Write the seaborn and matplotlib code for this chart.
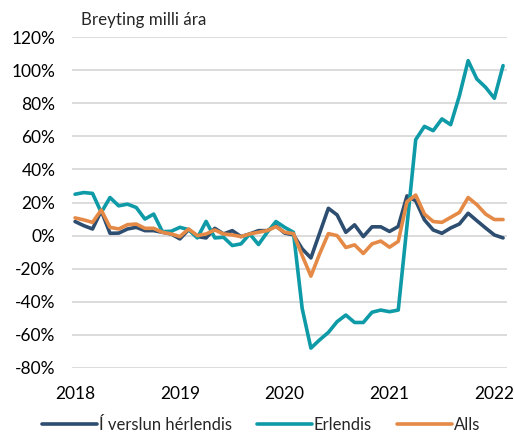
import numpy as np
import pandas as pd
import seaborn as sns
import matplotlib.pyplot as plt
from matplotlib.lines import Line2D
from matplotlib.ticker import FuncFormatter

months = pd.date_range('2018-01-01', periods=50, freq='MS')

verslun = [8.5, 6, 4, 15, 1.4, 1.5, 4, 5, 3, 3, 2, 1, -2, 3.6, -0.6, -1.4, 4.4, 1, 3, -0.6,
           1, 3, 3, 6, 1.5, 0.5, -8, -13.5, 1.5, 16.5, 12.5, 2, 6.5, -0.6, 5.3, 5.3, 2.5, 5.5, 24, 21,
           9.5, 3.4, 1.4, 4.6, 7, 13.5, 9, 4.6, 0.4, -1.4]
erlendis = [25, 26, 25.5, 14, 23, 18, 19, 17, 10, 13, 2.4, 2.6, 5, 3.6, -1.4, 8.6, -1.4, -1, -6, -5,
            1, -5.4, 2, 8.5, 5, 2, -44, -68, -63, -58.5, -52, -48, -52.5, -52.5, -46.3, -45, -46, -45, 6, 58,
            66, 63.4, 70.5, 67, 84.5, 105.7, 94.6, 89.6, 83, 102.7]
alls = [10.7, 9.5, 8, 15.5, 5, 4, 6.6, 7, 4.4, 4.4, 2, 1, -0.6, 4, 0, 1, 3.4, 1, 0.4, -0.6,
        1, 2, 3, 5.4, 2, 1.2, -12, -24.5, -11, 1.2, 0, -7.2, -5.6, -10.8, -5, -3.3, -7, -3.5, 20.5, 24.5,
        13, 8.5, 8, 11, 14, 23, 18.7, 13, 9.7, 9.7]

names = ['Í verslun hérlendis', 'Erlendis', 'Alls']
colors = ['#2d4e70', '#0e9aa7', '#e58a46']
yticks = list(range(-80, 121, 20))
year_labels = ['2018', '2019', '2020', '2021', '2022']

df = pd.DataFrame({'pos': np.arange(len(months)), names[0]: verslun, names[1]: erlendis, names[2]: alls})
df = df.melt('pos', var_name='series', value_name='val')

sns.set_style('white')
plt.rcParams['font.family'] = ['Lato', 'DejaVu Sans']

fig = plt.figure(figsize=(5.14, 4.32), dpi=100)
ax = fig.add_axes([72 / 514, 1 - 368 / 432, 435 / 514, 331 / 432])

sns.lineplot(data=df, x='pos', y='val', hue='series', hue_order=names,
             palette=colors, linewidth=2.6, ax=ax, legend=False)

ax.set_ylim(-80, 120)
ax.set_xlim(-0.35, 49.45)
ax.set_yticks(yticks)
ax.yaxis.set_major_formatter(FuncFormatter(lambda v, p: f'{int(v)}%'))
ax.set_xticks([0, 12, 24, 36, 48])
ax.set_xticklabels(year_labels)
ax.grid(axis='y', color='#d9d9d9', linewidth=1.3)
ax.set_axisbelow(True)
for s in ax.spines.values():
    s.set_visible(False)
ax.tick_params(axis='both', length=0, labelsize=12.5, colors='black')
ax.tick_params(axis='y', pad=12)
ax.tick_params(axis='x', pad=13)
ax.set_xlabel('')
ax.set_ylabel('')

fig.text(81 / 514, 1 - 25 / 432, 'Breyting milli ára', fontsize=12.2, va='baseline', ha='left')

handles = [Line2D([], [], color=c, linewidth=2.6) for c in colors]
fig.legend(handles, names, loc='center', bbox_to_anchor=(261 / 514, 1 - 425 / 432), ncol=3,
           frameon=False, fontsize=12, handlelength=3.3, handletextpad=0.12, columnspacing=1.5,
           borderaxespad=0, borderpad=0)

fig.savefig('out.png', dpi=100)
